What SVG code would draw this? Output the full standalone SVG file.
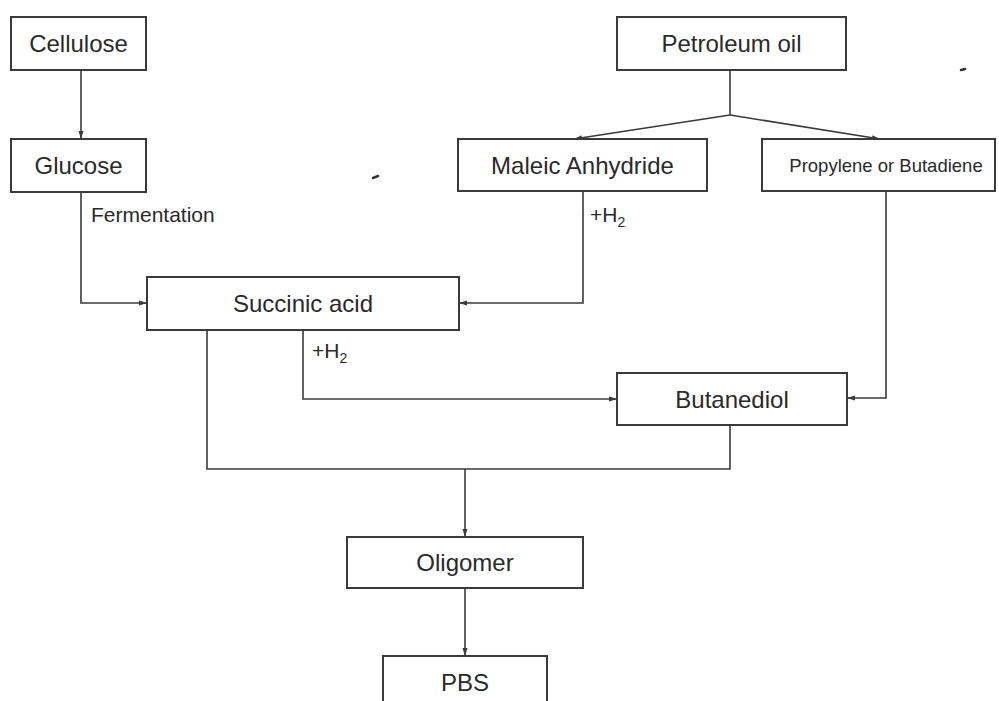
<svg xmlns="http://www.w3.org/2000/svg" width="999" height="701" viewBox="0 0 999 701">
<style>
.box{fill:#fff;stroke:#3a3a3a;stroke-width:2}
.t{font-family:"Liberation Sans",Arial,sans-serif;font-size:24px;fill:#2a2a2a;text-anchor:middle}
.lbl{font-family:"Liberation Sans",Arial,sans-serif;font-size:21px;fill:#2a2a2a}
.c{fill:none;stroke:#3a3a3a;stroke-width:1.6}
</style>
<defs>
<marker id="a" viewBox="0 0 8 6" refX="8" refY="3" markerWidth="8" markerHeight="6" markerUnits="userSpaceOnUse" orient="auto">
<path d="M0,0.5 L8,3 L0,5.5 Z" fill="#3a3a3a"/>
</marker>
</defs>
<rect width="999" height="701" fill="#fff"/>
<g id="connectors">
<path class="c" d="M81,70 V139" marker-end="url(#a)"/>
<path class="c" d="M81,192 V303 H147" marker-end="url(#a)"/>
<path class="c" d="M730,70 V115"/>
<path class="c" d="M730,115 L574,139" marker-end="url(#a)"/>
<path class="c" d="M730,115 L880,139" marker-end="url(#a)"/>
<path class="c" d="M583,191 V303 H459" marker-end="url(#a)"/>
<path class="c" d="M303,330 V399 H617" marker-end="url(#a)"/>
<path class="c" d="M886,191 V398 H847" marker-end="url(#a)"/>
<path class="c" d="M207,330 V469 H730 V425"/>
<path class="c" d="M465,469 V537" marker-end="url(#a)"/>
<path class="c" d="M465,588 V656" marker-end="url(#a)"/>
</g>
<g id="cellulose"><rect class="box" x="11" y="17" width="135" height="53"/><text class="t" x="78.5" y="52">Cellulose</text></g>
<g id="glucose"><rect class="box" x="11" y="139" width="135" height="53"/><text class="t" x="78.5" y="174">Glucose</text></g>
<g id="petroleum"><rect class="box" x="617" y="17" width="229" height="53"/><text class="t" x="731.5" y="52">Petroleum oil</text></g>
<g id="maleic"><rect class="box" x="458" y="139" width="249" height="52"/><text class="t" x="582.5" y="174">Maleic Anhydride</text></g>
<g id="propylene"><rect class="box" x="762" y="139" width="233" height="52"/><text class="t" x="886" y="172" style="font-size:18.5px">Propylene or Butadiene</text></g>
<g id="succinic"><rect class="box" x="147" y="277" width="312" height="53"/><text class="t" x="303" y="312">Succinic acid</text></g>
<g id="butanediol"><rect class="box" x="617" y="373" width="230" height="52"/><text class="t" x="732" y="408">Butanediol</text></g>
<g id="oligomer"><rect class="box" x="347" y="537" width="236" height="51"/><text class="t" x="465" y="571">Oligomer</text></g>
<g id="pbs"><rect class="box" x="383" y="656" width="164" height="60"/><text class="t" x="465" y="691">PBS</text></g>
<g id="labels">
<text class="lbl" x="91" y="222">Fermentation</text>
<text class="lbl" x="590" y="222">+H<tspan font-size="14" dy="5">2</tspan></text>
<text class="lbl" x="312" y="358">+H<tspan font-size="14" dy="5">2</tspan></text>
</g>
<g id="marks" stroke="#333" stroke-width="2.5" stroke-linecap="round">
<path d="M961,70 L965,69"/>
<path d="M373,178 L378,176"/>
</g>
</svg>
